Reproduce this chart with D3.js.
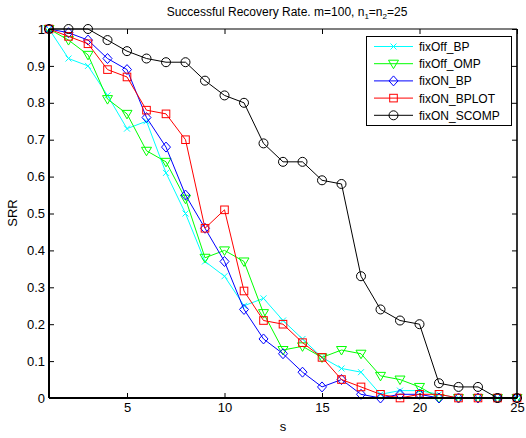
<!DOCTYPE html>
<html><head><meta charset="utf-8">
<script src="https://cdn.jsdelivr.net/npm/d3@7/dist/d3.min.js"></script>
<style>body{margin:0;background:#fff}svg{display:block;font-family:"Liberation Sans",Arial,sans-serif}</style>
</head><body><svg id="c" width="526" height="438"></svg>
<script>
const s = d3.range(1, 26);
const fixOff_BP    = [1,0.92,0.90,0.82,0.73,0.75,0.61,0.50,0.37,0.33,0.25,0.27,0.21,0.16,0.11,0.08,0.07,0.01,0.02,0.02,0.01,0,0,0,0];
const fixOff_OMP   = [1,0.97,0.93,0.81,0.77,0.67,0.64,0.54,0.38,0.40,0.37,0.23,0.13,0.14,0.11,0.13,0.12,0.06,0.05,0.03,0,0,0,0,0];
const fixON_BP     = [1,0.99,0.97,0.92,0.89,0.76,0.68,0.55,0.46,0.37,0.24,0.16,0.12,0.07,0.03,0.05,0.01,0,0.01,0.01,0,0,0,0,0];
const fixON_BPLOT  = [1,0.98,0.96,0.89,0.87,0.78,0.77,0.70,0.46,0.51,0.29,0.21,0.20,0.15,0.11,0.05,0.03,0.01,0,0.01,0.01,0,0,0,0];
const fixON_SCOMP  = [1,1,1,0.97,0.94,0.92,0.91,0.91,0.86,0.82,0.80,0.69,0.64,0.64,0.59,0.58,0.33,0.24,0.21,0.20,0.04,0.03,0.03,0,0];
const xTicks = [5,10,15,20,25];
const yTicks = [0,0.1,0.2,0.3,0.4,0.5,0.6,0.7,0.8,0.9,1];
const yTickLabels = ["0","0.1","0.2","0.3","0.4","0.5","0.6","0.7","0.8","0.9","1"];
const seriesNames = ["fixOff_BP","fixOff_OMP","fixON_BP","fixON_BPLOT","fixON_SCOMP"];
const seriesData = [fixOff_BP, fixOff_OMP, fixON_BP, fixON_BPLOT, fixON_SCOMP];
const seriesColors = ["#00ffff","#00ff00","#0000ff","#ff0000","#000000"];
const seriesMarkers = ["x","tri","diamond","square","circle"];

const svg = d3.select("#c");
const L = 49, R = 517, T = 29, B = 398;
const x = d3.scaleLinear().domain([1,25]).range([L,R]);
const y = d3.scaleLinear().domain([0,1]).range([B,T]);

function marker(g, type, color) {
  if (type === "x") {
    g.append("path").attr("d","M-3,-3L3,3M-3,3L3,-3").attr("stroke",color).attr("fill","none").attr("stroke-width",1);
  } else if (type === "tri") {
    g.append("path").attr("d","M-5,-3.5L5,-3.5L0,5Z").attr("stroke",color).attr("fill","none").attr("stroke-width",1);
  } else if (type === "diamond") {
    g.append("path").attr("d","M0,-5L4.5,0L0,5L-4.5,0Z").attr("stroke",color).attr("fill","none").attr("stroke-width",1);
  } else if (type === "square") {
    g.append("rect").attr("x",-3.8).attr("y",-3.8).attr("width",7.6).attr("height",7.6).attr("stroke",color).attr("fill","none").attr("stroke-width",1);
  } else {
    g.append("circle").attr("r",4.5).attr("stroke",color).attr("fill","none").attr("stroke-width",1);
  }
}

const line = d3.line().x((d,i)=>x(s[i])).y(d=>y(d));
seriesData.forEach((data, k) => {
  svg.append("path").datum(data).attr("d", line).attr("fill","none").attr("stroke",seriesColors[k]).attr("stroke-width",1);
  data.forEach((v,i) => {
    const g = svg.append("g").attr("transform",`translate(${x(s[i])},${y(v)})`);
    marker(g, seriesMarkers[k], seriesColors[k]);
  });
});

// box (left/bottom/right heavier like reference)
svg.append("line").attr("x1",L).attr("x2",R).attr("y1",T).attr("y2",T).attr("stroke","#000").attr("stroke-width",1.2);
svg.append("line").attr("x1",L).attr("x2",R).attr("y1",B).attr("y2",B).attr("stroke","#000").attr("stroke-width",2);
svg.append("line").attr("x1",L).attr("x2",L).attr("y1",T).attr("y2",B).attr("stroke","#000").attr("stroke-width",2);
svg.append("line").attr("x1",R).attr("x2",R).attr("y1",T).attr("y2",B).attr("stroke","#000").attr("stroke-width",1.6);

// axes ticks inward
const xb = svg.append("g").attr("transform",`translate(0,${B})`).call(d3.axisBottom(x).tickValues(xTicks).tickSizeInner(-5).tickSizeOuter(0).tickPadding(5));
const xt = svg.append("g").attr("transform",`translate(0,${T})`).call(d3.axisTop(x).tickValues(xTicks).tickSizeInner(-5).tickSizeOuter(0).tickFormat(""));
const yl = svg.append("g").attr("transform",`translate(${L},0)`).call(d3.axisLeft(y).tickValues(yTicks).tickFormat((d,i)=>yTickLabels[i]).tickSizeInner(-5).tickSizeOuter(0).tickPadding(4));
const yr = svg.append("g").attr("transform",`translate(${R},0)`).call(d3.axisRight(y).tickValues(yTicks).tickSizeInner(-5).tickSizeOuter(0).tickFormat(""));
[xb,xt,yl,yr].forEach(a=>{a.select(".domain").remove(); a.selectAll("text").attr("font-size",13).attr("fill","#000").attr("font-family","Liberation Sans, Arial, sans-serif"); a.selectAll("line").attr("stroke","#000");});

// labels
svg.append("text").attr("x",283).attr("y",431).attr("text-anchor","middle").attr("font-size",13).text("s");
svg.append("text").attr("transform","translate(17,213) rotate(-90)").attr("text-anchor","middle").attr("font-size",13).text("SRR");
const title = svg.append("text").attr("x",287).attr("y",16).attr("text-anchor","middle").attr("font-size",12);
title.append("tspan").text("Successful Recovery Rate. m=100, n");
title.append("tspan").attr("font-size",8).attr("dy",3).text("1");
title.append("tspan").attr("dy",-3).text("=n");
title.append("tspan").attr("font-size",8).attr("dy",3).text("2");
title.append("tspan").attr("dy",-3).text("=25");

// legend
const lg = svg.append("g");
lg.append("rect").attr("x",366.5).attr("y",36.5).attr("width",145).attr("height",89).attr("fill","#fff").attr("stroke","#000").attr("stroke-width",1);
seriesNames.forEach((n,k)=>{
  const yy = 46.5 + k*17.2;
  lg.append("line").attr("x1",374).attr("x2",413).attr("y1",yy).attr("y2",yy).attr("stroke",seriesColors[k]).attr("stroke-width",1);
  const g = lg.append("g").attr("transform",`translate(393.5,${yy})`);
  marker(g, seriesMarkers[k], seriesColors[k]);
  lg.append("text").attr("x",419).attr("y",yy+4.5).attr("font-size",12).text(n);
});
</script></body></html>
